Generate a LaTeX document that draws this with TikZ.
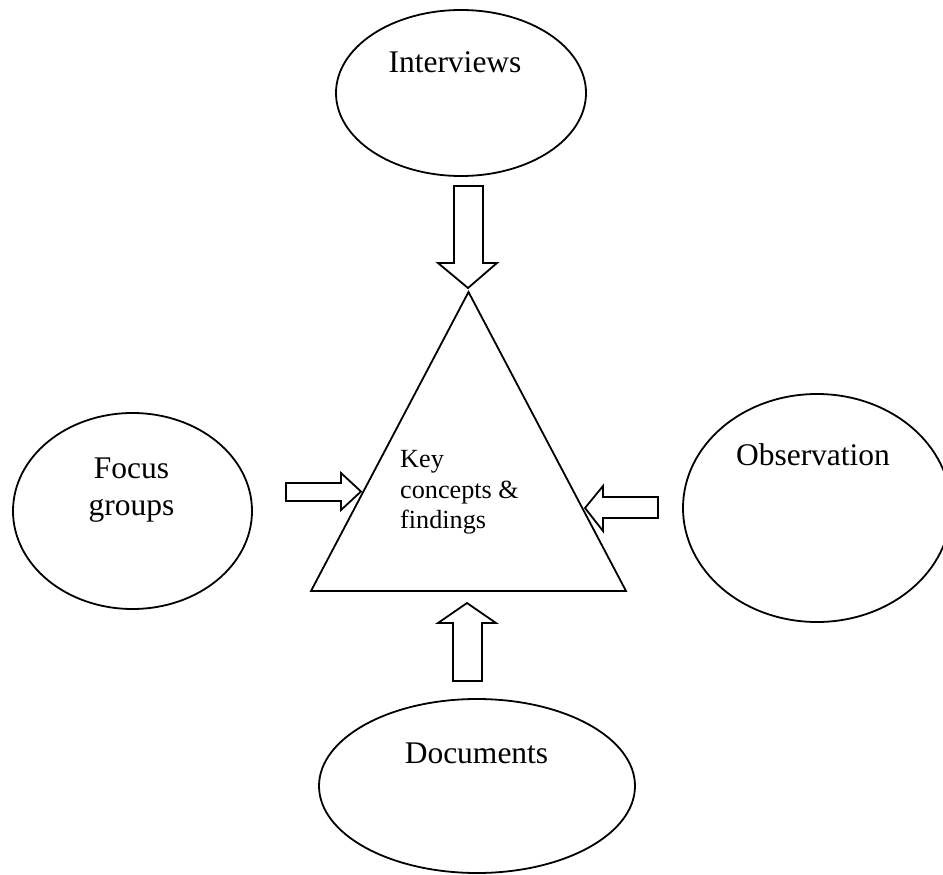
\documentclass[tikz,border=0pt]{standalone}
\usepackage{fontspec}
\setmainfont{Liberation Serif}
\usetikzlibrary{shapes.geometric}
\begin{document}
\begin{tikzpicture}[x=1pt,y=-1pt,
  src/.style={draw, ellipse, line width=1.8pt, inner sep=0pt},
  lbl/.style={font=\fontsize{31.5}{36}\selectfont, inner sep=0pt, anchor=base},
  inlbl/.style={font=\fontsize{26.2}{30}\selectfont, inner sep=0pt, anchor=base west},
  blockarrow/.style={draw, line width=1.8pt, line join=miter},
  tri/.style={draw, line width=1.8pt, line join=miter}]
\useasboundingbox (0,0) rectangle (943,875);
% source ellipses
\node[src, minimum width=250pt, minimum height=166pt] (int) at (461,93) {};
\node[src, minimum width=239pt, minimum height=196pt] (foc) at (132.5,511) {};
\node[src, minimum width=268pt, minimum height=228pt] (obs) at (817,508) {};
\node[src, minimum width=316pt, minimum height=174pt] (doc) at (477,786) {};
% labels
\node[lbl] (intT) at (455,73) {Interviews};
\node[lbl] (focT1) at (131.5,478) {Focus};
\node[lbl] (focT2) at (131.5,515) {groups};
\node[lbl] (obsT) at (813,465) {Observation};
\node[lbl] (docT) at (476.5,763) {Documents};
% central triangle
\coordinate (apex) at (468.5,292);
\coordinate (bl) at (311,591);
\coordinate (br) at (626,591);
\draw[tri] (apex) -- (bl) -- (br) -- cycle;
\node[inlbl] (k1) at (400,467) {Key};
\node[inlbl] (k2) at (400,498) {concepts \&};
\node[inlbl] (k3) at (400,528) {findings};
% block arrows
% from Interviews (down)
\draw[blockarrow] (454,186) -- (483,186) -- (483,263) -- (497,263) -- (468,288)
  -- (438,263) -- (454,263) -- cycle;
% from Focus groups (right)
\draw[blockarrow] (286,483) -- (341,483) -- (341,473) -- (361,491.5) -- (341,510)
  -- (341,501) -- (286,501) -- cycle;
% from Observation (left)
\draw[blockarrow] (658,497) -- (603,497) -- (603,486) -- (585,508) -- (603,531)
  -- (603,518) -- (658,518) -- cycle;
% from Documents (up)
\draw[blockarrow] (453,681) -- (453,623) -- (438,623) -- (467,603) -- (496,623)
  -- (482,623) -- (482,681) -- cycle;
\end{tikzpicture}
\end{document}
